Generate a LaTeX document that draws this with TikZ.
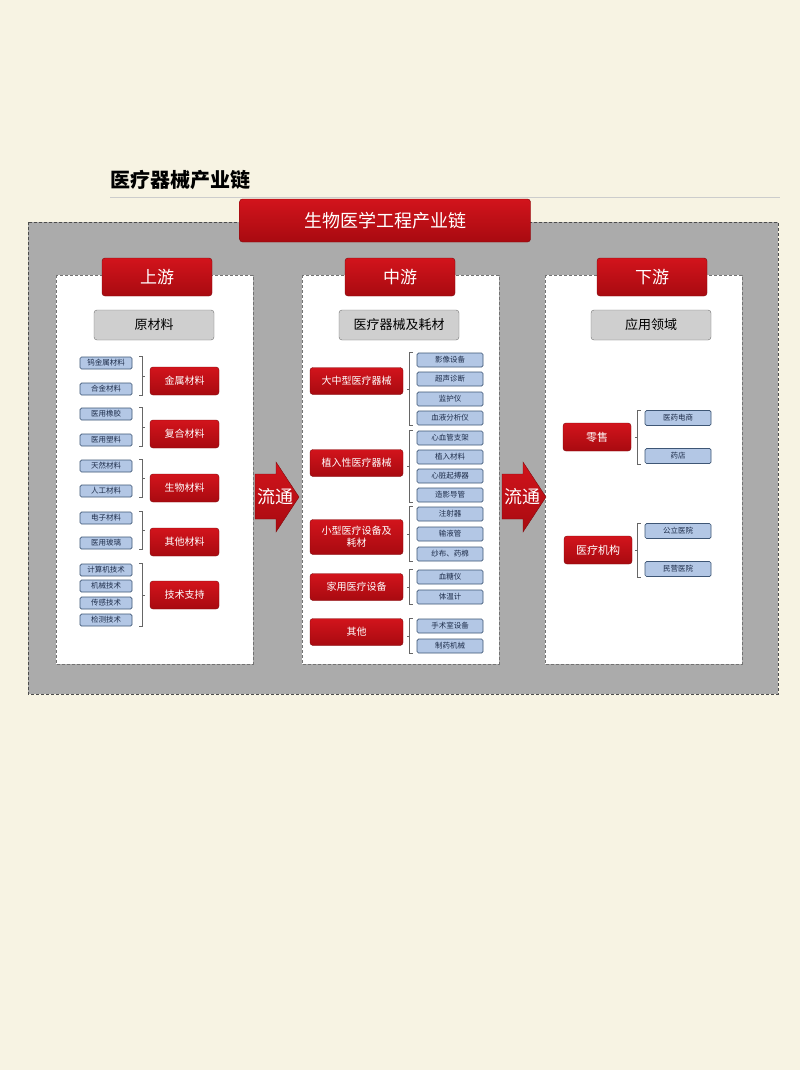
\documentclass[tikz,border=0pt]{standalone}
\usepackage{fontspec}
\setmainfont{Noto Sans CJK SC}
\usetikzlibrary{calc}

\definecolor{paper}{HTML}{F7F3E3}
\definecolor{panel}{HTML}{ABABAB}
\definecolor{chainred}{HTML}{C20C14}
\definecolor{redtop}{HTML}{D2141C}
\definecolor{redbottom}{HTML}{A80A10}
\definecolor{redline}{HTML}{7E0A0C}
\definecolor{leafblue}{HTML}{B3C7E5}
\definecolor{leafline}{HTML}{3E5675}
\definecolor{leaftext}{HTML}{1E2D4A}
\definecolor{subgray}{HTML}{CFCFCF}

\tikzset{
	redbox/.style = {draw = redline, top color = redtop, bottom color = redbottom, text = white, rounded corners = 3pt, inner sep = 0pt, align = center},
	leaf/.style = {draw = leafline, line width = 0.7pt, fill = leafblue, text = leaftext, rounded corners = 1.5pt, inner sep = 0pt, font = \fontsize{7.5}{8}\selectfont},
	sub/.style = {draw = black!55, fill = subgray, rounded corners = 3pt, minimum width = 120pt, minimum height = 30pt, font = \fontsize{13}{14}\selectfont},
	column/.style = {draw = black!55, fill = white, dash pattern = on 3pt off 2pt},
	brace/.style = {draw = black!60, line width = 0.5pt}
}

% Brace to the right of a group of boxes
\newcommand{\braceafter}[2]{%
	\draw [brace] ($(#1.north east) + (7, 0)$) -- ($(#1.north east) + (10, 0)$) -- ($(#2.south east) + (10, 0)$) -- ($(#2.south east) + (7, 0)$);
	\draw [brace] ($(#1.north east)!0.5!(#2.south east) + (10, 0)$) -- ++(3, 0);}

% Brace to the left of a group of boxes
\newcommand{\bracebefore}[2]{%
	\draw [brace] ($(#1.north west) + (-4, 0)$) -- ($(#1.north west) + (-7, 0)$) -- ($(#2.south west) + (-7, 0)$) -- ($(#2.south west) + (-4, 0)$);
	\draw [brace] ($(#1.north west)!0.5!(#2.south west) + (-7, 0)$) -- ++(-3, 0);}

\begin{document}
\begin{tikzpicture}[> = latex, x = 1pt, y = -1pt]

	% Definitions

	\def\headfont{\fontsize{17}{18}\selectfont}	% Stage headers
	\def\redfont{\fontsize{10}{12}\selectfont}		% Red category boxes
	\def\flowfont{\fontsize{18}{20}\selectfont}	% Arrow labels

	% Page

	\useasboundingbox [fill = paper] (0, 0) rectangle (800, 1070);

	% Title

	\node [anchor = west, font = \fontsize{20}{22}\bfseries\selectfont] (title) at (107, 180) {医疗器械产业链};
	\draw [black!20, line width = 0.6pt] (110, 197) -- (780, 197);

	% Grey panel and columns

	\draw [fill = panel, draw = black!70, dash pattern = on 3pt off 2pt] (28, 222) rectangle (778, 694);
	\draw [column] (56, 275) rectangle (253, 664);
	\draw [column] (302, 275) rectangle (499, 664);
	\draw [column] (545, 275) rectangle (742, 664);

	\node [redbox, minimum width = 291pt, minimum height = 43pt, font = \fontsize{18}{20}\selectfont] (chain) at (385, 220.5) {生物医学工程产业链};

	% Stage headers

	\node [redbox, minimum width = 110pt, minimum height = 38pt, font = \headfont] (up) at (157, 277) {上游};
	\node [redbox, minimum width = 110pt, minimum height = 38pt, font = \headfont] (mid) at (400, 277) {中游};
	\node [redbox, minimum width = 110pt, minimum height = 38pt, font = \headfont] (down) at (652, 277) {下游};

	\node [sub] (upsub) at (154, 325) {原材料};
	\node [sub] (midsub) at (399, 325) {医疗器械及耗材};
	\node [sub] (downsub) at (651, 325) {应用领域};

	% Upstream

	\foreach \n/\y/\t in {u1/363/钨金属材料, u2/389/合金材料, u3/414/医用橡胶, u4/440/医用塑料, u5/466/天然材料, u6/491/人工材料, u7/518/电子材料, u8/543/医用玻璃, u9/570/计算机技术, u10/586/机械技术, u11/603/传感技术, u12/620/检测技术}
		\node [leaf, minimum width = 52pt, minimum height = 12pt] (\n) at (106, \y) {\t};

	\foreach \n/\y/\t in {metal/381/金属材料, compo/434/复合材料, bio/488/生物材料, other/542/其他材料, tech/595/技术支持}
		\node [redbox, minimum width = 69pt, minimum height = 28pt, font = \redfont] (\n) at (184.5, \y) {\t};

	\braceafter{u1}{u2}
	\braceafter{u3}{u4}
	\braceafter{u5}{u6}
	\braceafter{u7}{u8}
	\braceafter{u9}{u12}

	% Midstream

	\foreach \n/\y/\t in {m1/360/影像设备, m2/379/超声诊断, m3/399/监护仪, m4/418/血液分析仪, m5/438/心血管支架, m6/457/植入材料, m7/476/心脏起搏器, m8/495/造影导管, m9/514/注射器, m10/534/输液管, m11/554/纱布、药棉, m12/577/血糖仪, m13/597/体温计, m14/626/手术室设备, m15/646/制药机械}
		\node [leaf, minimum width = 66pt, minimum height = 14pt] (\n) at (450, \y) {\t};

	\foreach \n/\y/\t in {large/381/大中型医疗器械, implant/463/植入性医疗器械, home/587/家用医疗设备, misc/632/其他}
		\node [redbox, minimum width = 93pt, minimum height = 27pt, font = \redfont] (\n) at (356.5, \y) {\t};
	\node [redbox, minimum width = 93pt, minimum height = 35pt, font = \redfont] (small) at (356.5, 537) {小型医疗设备及\\耗材};

	\bracebefore{m1}{m4}
	\bracebefore{m5}{m8}
	\bracebefore{m9}{m11}
	\bracebefore{m12}{m13}
	\bracebefore{m14}{m15}

	% Downstream

	\foreach \n/\y/\t in {d1/418/医药电商, d2/456/药店, d3/531/公立医院, d4/569/民营医院}
		\node [leaf, minimum width = 66pt, minimum height = 15pt] (\n) at (678, \y) {\t};

	\node [redbox, minimum width = 68pt, minimum height = 28pt, font = \fontsize{11}{12}\selectfont] (retail) at (597, 437) {零售};
	\node [redbox, minimum width = 68pt, minimum height = 28pt, font = \fontsize{11}{12}\selectfont] (inst) at (598, 550) {医疗机构};

	\bracebefore{d1}{d2}
	\bracebefore{d3}{d4}

	% Flow arrows

	\foreach \x [count = \i] in {255, 502}
	{
		\draw [redline, top color = redtop, bottom color = redbottom] (\x, 474) -- (\x + 21, 474) -- (\x + 21, 462) -- (\x + 44, 497) -- (\x + 21, 532) -- (\x + 21, 519) -- (\x, 519) -- cycle;
		\node [text = white, font = \flowfont, inner sep = 0pt] (flow\i) at (\x + 20, 497) {流通};
	}

\end{tikzpicture}
\end{document}
